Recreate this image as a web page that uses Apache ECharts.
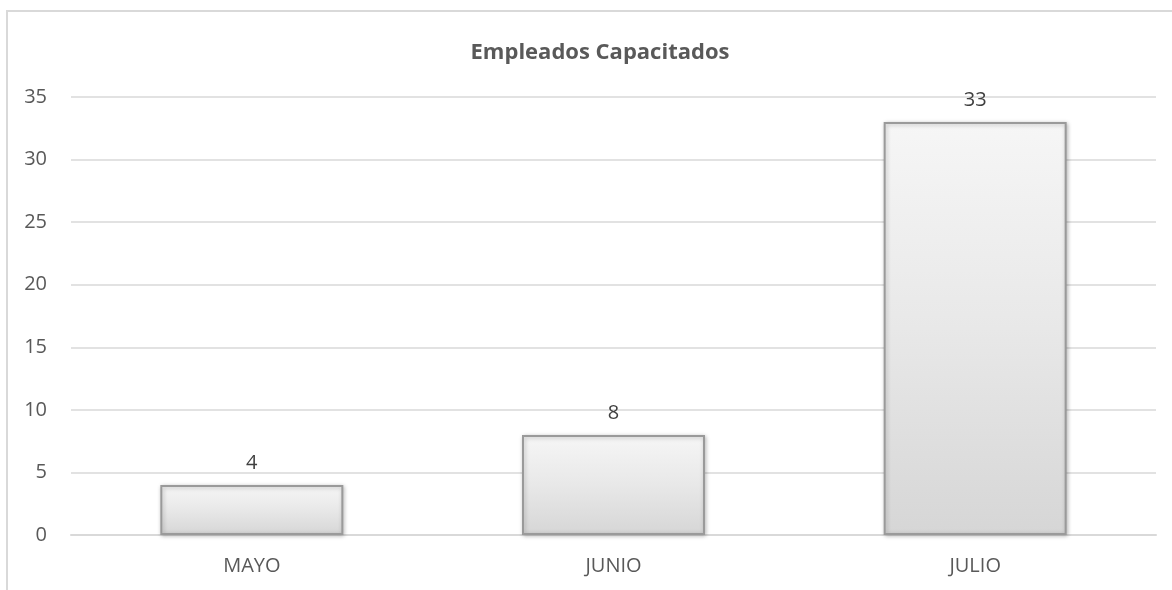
<!DOCTYPE html>
<html>
<head>
<meta charset="utf-8">
<script src="https://cdn.jsdelivr.net/npm/echarts@6/dist/echarts.min.js"></script>
<style>
    html, body { margin: 0; padding: 0; overflow: hidden; background: #fff; }
    #frame { position: absolute; left: 6px; top: 10px; width: 1300px; height: 700px; border: 2px solid #d9d9d9; }
    #chart { position: absolute; left: 0; top: 0; width: 1172px; height: 590px; }
</style>
</head>
<body>
<div id="frame"></div>
<div id="chart"></div>
<script>
// datos del grafico
var meses = ['MAYO', 'JUNIO', 'JULIO'];
var empleados = [4, 8, 33];
var tituloGrafico = 'Empleados Capacitados';

var fuente = 'Open Sans';
var gris = '#595959';

var chart = echarts.init(document.getElementById('chart'));
chart.setOption({
    animation: false,
    backgroundColor: 'transparent',
    title: {
        text: tituloGrafico,
        left: 595,
        top: 37,
        textAlign: 'center',
        textStyle: { fontFamily: fuente, fontSize: 22, fontWeight: 'bold', color: gris }
    },
    grid: { left: 71, right: 16, top: 97, bottom: 55 },
    xAxis: {
        type: 'category',
        data: meses,
        axisLine: { lineStyle: { color: '#d9d9d9', width: 2 } },
        axisTick: { show: false },
        axisLabel: { margin: 21, fontFamily: fuente, fontSize: 20, color: gris }
    },
    yAxis: {
        type: 'value',
        min: 0,
        max: 35,
        interval: 5,
        axisLine: { show: false },
        axisTick: { show: false },
        splitLine: { lineStyle: { color: '#d9d9d9', width: 1.5 } },
        axisLabel: { margin: 24, fontFamily: fuente, fontSize: 20, color: gris }
    },
    series: [{
        type: 'bar',
        data: empleados,
        barWidth: '50.6%',
        label: {
            show: true,
            position: 'top',
            distance: 12,
            fontFamily: fuente,
            fontSize: 20,
            color: '#404040'
        },
        itemStyle: {
            color: new echarts.graphic.LinearGradient(0, 0, 0, 1, [
                { offset: 0, color: '#f6f6f6' },
                { offset: 0.5, color: '#e8e8e8' },
                { offset: 1, color: '#d6d6d6' }
            ]),
            borderColor: '#9a9a9a',
            borderWidth: 2,
            shadowColor: 'rgba(0,0,0,0.25)',
            shadowBlur: 4,
            shadowOffsetX: 1,
            shadowOffsetY: 1
        }
    }]
});
</script>
</body>
</html>
